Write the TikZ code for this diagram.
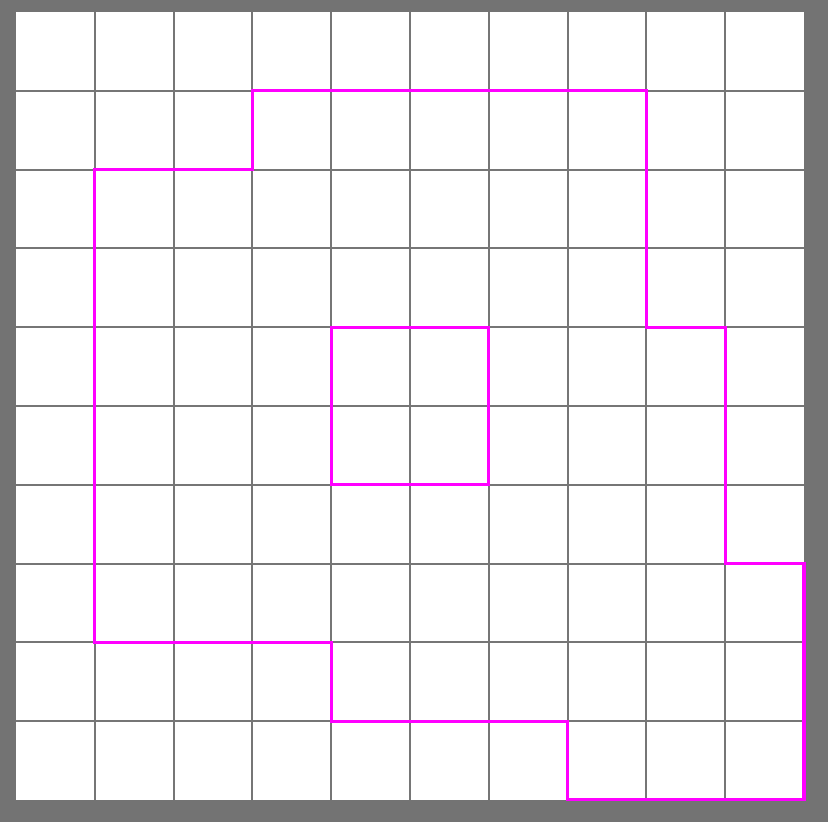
\documentclass[tikz,border=0pt]{standalone}
\usepackage{tikz}
\definecolor{bggray}{RGB}{115,115,115}
\definecolor{gridgray}{RGB}{118,118,118}
\definecolor{pathpink}{RGB}{255,0,255}
\tikzstyle{gridline}=[draw=gridgray,line width=0.7pt]
\tikzstyle{region}=[draw=pathpink,line width=1.1pt,line join=miter]

\begin{document}
\begin{tikzpicture}[x=1cm,y=-1cm]
    \fill[bggray] (-0.203,-0.152) rectangle (10.305,10.279);
    \useasboundingbox (-0.203,-0.152) rectangle (10.305,10.279);
    \fill[white] (0,0) rectangle (10,10);
    \foreach \i in {1,...,9} {
        \draw[gridline] (\i,0) -- (\i,10);
        \draw[gridline] (0,\i) -- (10,\i);
    }
    % outer boundary
    \draw[region] (3,1) -- (8,1) -- (8,4) -- (9,4) -- (9,7) -- (10,7) -- (10,10)
        -- (7,10) -- (7,9) -- (4,9) -- (4,8) -- (1,8) -- (1,2) -- (3,2) -- cycle;
    % hole
    \draw[region] (4,4) rectangle (6,6);
\end{tikzpicture}
\end{document}
